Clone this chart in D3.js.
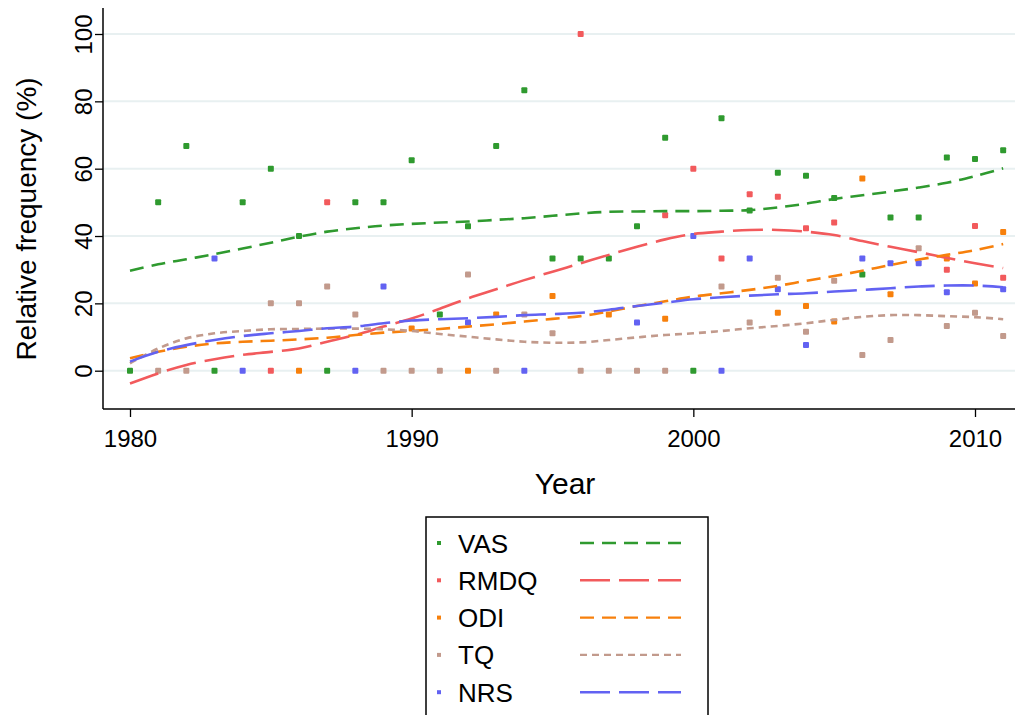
<!DOCTYPE html>
<html><head><meta charset="utf-8">
<script src="https://cdn.jsdelivr.net/npm/d3@7"></script>
<style>body{margin:0;background:#fff}svg{display:block}text{font-family:"Liberation Sans",Arial,sans-serif;fill:#000}</style>
</head><body>
<svg id="c" width="1035" height="715"></svg>
<script>
const seriesNames = ["VAS","RMDQ","ODI","TQ","NRS"];
const years = d3.range(1980, 2012);
const xTicks = [1980, 1990, 2000, 2010];
const yTicks = [0, 20, 40, 60, 80, 100];

// observed points [year, value]
const vasPts = [[1980,0],[1981,50],[1982,66.7],[1983,0],[1984,50],[1985,60],[1986,40],[1987,0],[1988,50],[1989,50],[1990,62.5],[1991,16.7],[1992,42.9],[1993,66.7],[1994,83.3],[1995,33.3],[1996,33.3],[1997,33.3],[1998,42.9],[1999,69.2],[2000,0],[2001,75],[2002,47.6],[2003,58.8],[2004,57.9],[2005,51.3],[2006,28.6],[2007,45.5],[2008,45.5],[2009,63.3],[2010,62.9],[2011,65.5]];
const rmdqPts = [[1985,0],[1987,50],[1996,100],[1999,46.2],[2000,60],[2001,33.3],[2002,52.4],[2003,51.7],[2004,42.3],[2005,44.0],[2009,30.0],[2010,43.0],[2011,27.6]];
const odiPts = [[1986,0],[1990,12.5],[1992,0],[1993,16.7],[1995,22.2],[1997,16.7],[1999,15.4],[2003,17.2],[2004,19.2],[2005,14.6],[2006,57.1],[2007,22.7],[2009,33.3],[2010,25.9],[2011,41.2]];
const tqPts = [[1981,0],[1982,0],[1985,20],[1986,20],[1987,25],[1988,16.7],[1989,0],[1990,0],[1991,0],[1992,28.6],[1993,0],[1994,16.7],[1995,11.1],[1996,0],[1997,0],[1998,0],[1999,0],[2001,25],[2002,14.3],[2003,27.6],[2004,11.6],[2005,26.7],[2006,4.7],[2007,9.1],[2008,36.4],[2009,13.3],[2010,17.2],[2011,10.3]];
const nrsPts = [[1983,33.3],[1984,0],[1988,0],[1989,25],[1992,14.3],[1994,0],[1998,14.3],[2000,40],[2001,0],[2002,33.3],[2003,24.2],[2004,7.6],[2006,33.3],[2007,31.9],[2008,31.9],[2009,23.3],[2011,24.2]];

// smoothed curves, one value per year 1980..2011
const vasFit = [29.7,31.6,33.1,34.6,36.3,38.0,39.8,41.3,42.3,43.1,43.6,44.0,44.3,44.8,45.3,46.0,46.7,47.2,47.3,47.4,47.4,47.5,47.7,48.5,49.6,51.0,52.1,53.2,54.4,55.8,57.8,60.1];
const rmdqFit = [-3.8,-0.8,1.7,3.4,4.7,5.6,6.6,8.6,10.6,13.1,15.5,18.4,21.5,24.2,26.9,29.4,31.9,34.4,36.8,39.0,40.6,41.3,41.8,41.8,41.3,40.3,38.5,36.8,35.2,33.5,31.9,30.5];
const odiFit = [3.7,5.6,7.1,8.1,8.6,8.9,9.3,9.8,10.6,11.3,11.8,12.4,13.1,13.8,14.6,15.4,16.2,17.6,19.2,20.6,22.0,23.0,24.0,25.2,26.7,28.1,29.7,31.4,33.0,34.4,35.8,37.6];
const tqFit = [2.2,6.6,9.6,11.1,11.8,12.3,12.4,12.5,12.5,12.3,11.8,10.9,10.1,9.3,8.6,8.3,8.4,9.1,9.9,10.6,11.1,11.8,12.6,13.3,14.1,15.1,16.0,16.5,16.5,16.2,15.9,15.3];
const nrsFit = [2.7,5.6,7.6,9.1,10.3,11.1,11.8,12.6,13.1,14.1,14.9,15.3,15.6,16.0,16.5,16.8,17.2,18.1,19.2,20.2,21.2,21.8,22.3,22.7,23.0,23.5,24.0,24.5,25.0,25.3,25.3,24.8];

const colors = ["#2f9a2f","#f25a5c","#f7800c","#c29a8c","#6262f2"];
const dashes = ["14,8","30,9","14,8","7,5","30,9"];
const pts = [vasPts, rmdqPts, odiPts, tqPts, nrsPts];
const fits = [vasFit, rmdqFit, odiFit, tqFit, nrsFit];

const svg = d3.select("#c");
const x = d3.scaleLinear().domain([1980, 2010]).range([130, 975]);
const y = d3.scaleLinear().domain([0, 100]).range([370.7, 34]);
const pLeft = 103, pRight = 1015, pTop = 8, pBottom = 409;

// gridlines
svg.append("g").selectAll("line").data(yTicks).join("line")
  .attr("x1", pLeft).attr("x2", pRight).attr("y1", d => y(d)).attr("y2", d => y(d))
  .attr("stroke", "#e8f0f1").attr("stroke-width", 2);

// axes
const yAxis = d3.axisLeft(y).tickValues(yTicks).tickSize(8).tickFormat(d3.format("d"));
const gy = svg.append("g").attr("transform", `translate(${pLeft},0)`).call(yAxis);
gy.select(".domain").remove();
gy.selectAll(".tick line").attr("stroke", "#000").attr("stroke-width", 1.3);
gy.selectAll(".tick text")
  .attr("transform", "rotate(-90)").attr("x", 0).attr("y", -11).attr("dy", 0)
  .attr("text-anchor", "middle").attr("font-size", 24)
  .attr("font-family", "Liberation Sans, Arial, sans-serif");

const xAxis = d3.axisBottom(x).tickValues(xTicks).tickSize(8).tickPadding(13).tickFormat(d3.format("d"));
const gx = svg.append("g").attr("transform", `translate(0,${pBottom})`).call(xAxis);
gx.select(".domain").remove();
gx.selectAll(".tick line").attr("stroke", "#000").attr("stroke-width", 1.3);
gx.selectAll(".tick text").attr("font-size", 24).attr("font-family", "Liberation Sans, Arial, sans-serif");

svg.append("line").attr("x1", pLeft).attr("x2", pLeft).attr("y1", pTop).attr("y2", pBottom).attr("stroke", "#000").attr("stroke-width", 1.5);
svg.append("line").attr("x1", pLeft).attr("x2", pRight).attr("y1", pBottom).attr("y2", pBottom).attr("stroke", "#000").attr("stroke-width", 1.5);

// points
pts.forEach((p, i) => {
  svg.append("g").selectAll("rect").data(p).join("rect")
    .attr("x", d => x(d[0]) - 3).attr("y", d => y(d[1]) - 3)
    .attr("width", 6).attr("height", 6).attr("rx", 1)
    .attr("fill", colors[i]);
});

// fitted curves
const lineGen = d3.line().x((d, j) => x(years[j])).y(d => y(d)).curve(d3.curveCatmullRom);
fits.forEach((f, i) => {
  svg.append("path").datum(f)
    .attr("d", lineGen)
    .attr("fill", "none").attr("stroke", colors[i]).attr("stroke-width", 2.6)
    .attr("stroke-dasharray", dashes[i]);
});

// axis titles
svg.append("text").attr("x", 565).attr("y", 494).attr("text-anchor", "middle").attr("font-size", 30).text("Year");
svg.append("text").attr("transform", "translate(36,219) rotate(-90)").attr("text-anchor", "middle").attr("font-size", 28).text("Relative frequency (%)");

// legend
const lg = svg.append("g");
lg.append("rect").attr("x", 426).attr("y", 517).attr("width", 282).attr("height", 210)
  .attr("fill", "#fff").attr("stroke", "#000").attr("stroke-width", 1.5);
seriesNames.forEach((n, i) => {
  const cy = 543 + i * 37.3;
  lg.append("rect").attr("x", 437).attr("y", cy - 2).attr("width", 4).attr("height", 4).attr("fill", colors[i]);
  lg.append("text").attr("x", 458).attr("y", cy + 9.5).attr("font-size", 26).text(n);
  lg.append("line").attr("x1", 580).attr("x2", 681).attr("y1", cy).attr("y2", cy)
    .attr("stroke", colors[i]).attr("stroke-width", 2.4).attr("stroke-dasharray", dashes[i]);
});
</script>
</body></html>
